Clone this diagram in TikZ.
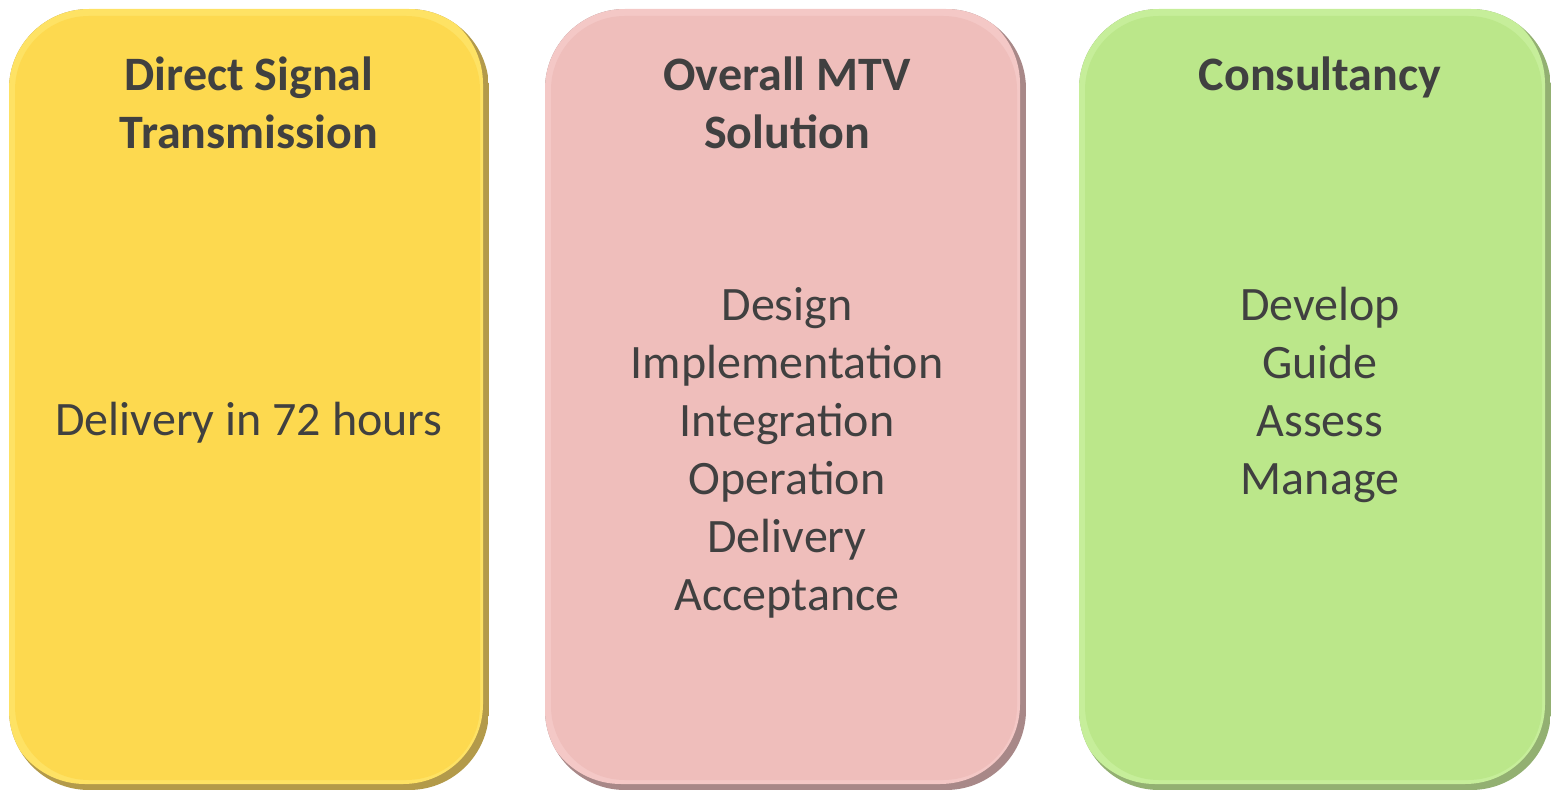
\documentclass[tikz,border=0pt]{standalone}
\usepackage{fontspec}
\setmainfont{Carlito}
\usetikzlibrary{positioning}
\definecolor{sigYellow}{HTML}{FDD94F}
\definecolor{sigYellowLite}{HTML}{FEE264}
\definecolor{sigYellowDark}{HTML}{B39A4A}
\definecolor{mtvPink}{HTML}{EFBEBB}
\definecolor{mtvPinkLite}{HTML}{F4C8C6}
\definecolor{mtvPinkDark}{HTML}{A88888}
\definecolor{conGreen}{HTML}{BBE78A}
\definecolor{conGreenLite}{HTML}{C6EE9A}
\definecolor{conGreenDark}{HTML}{93B072}
\definecolor{txtGray}{HTML}{404040}
\begin{document}
\begin{tikzpicture}[x=0.5pt, y=-0.5pt,
    boxtext/.style={align=center, text=txtGray, inner sep=0pt,
        font=\fontsize{24}{29}\selectfont},
    boxtitle/.style={boxtext, font=\fontsize{24}{29}\selectfont\bfseries}]
    \useasboundingbox (0,0) rectangle (1551,791);
    % bevelled boxes
    \foreach \l/\r/\main in {9/489/sigYellow, 545/1026/mtvPink, 1079/1551/conGreen} {
        \begin{scope}
            \clip[rounded corners=40pt] (\l,9) rectangle (\r,790);
            \fill[\main Dark] (\l,9) rectangle (\r,790);
            \fill[\main Lite, rounded corners=40pt] (\l-4,4) rectangle (\r-6,784);
            \fill[\main, rounded corners=37pt] (\l+6,16) rectangle (\r-9,780);
        \end{scope}
    }
    % texts
    \node[boxtitle] (sigtitle) at (249,103) {Direct Signal\\Transmission};
    \node[boxtext] (sigbody) at (249,423) {Delivery in 72 hours};
    \node[boxtitle] (mtvtitle) at (787,103) {Overall MTV\\Solution};
    \node[boxtext] (mtvbody) at (787,453) {Design\\Implementation\\Integration\\Operation\\Delivery\\Acceptance};
    \node[boxtitle] (contitle) at (1320,77) {Consultancy};
    \node[boxtext] (conbody) at (1320,395) {Develop\\Guide\\Assess\\Manage};
\end{tikzpicture}
\end{document}
